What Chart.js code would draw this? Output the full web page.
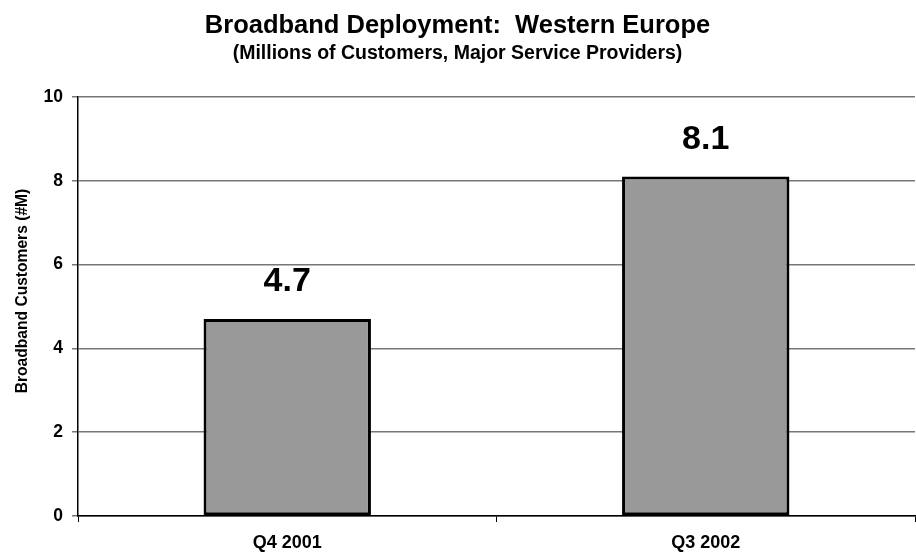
<!DOCTYPE html>
<html>
<head>
<meta charset="utf-8">
<script src="https://cdn.jsdelivr.net/npm/chart.js@4"></script>
<style>
  html, body { margin: 0; padding: 0; background: #fff; }
  #wrap { width: 916px; height: 554px; }
</style>
</head>
<body>
<div id="wrap"><canvas id="chart" width="916" height="554"></canvas></div>
<script>
const categories = ["Q4 2001", "Q3 2002"];
const customers = [4.7, 8.1];
const valueLabels = ["4.7", "8.1"];
const yTitle = "Broadband Customers (#M)";

const FONT = "Arial, 'Liberation Sans', sans-serif";

// value labels above bars, on a white patch that hides the gridline
const barLabels = {
  id: "barLabels",
  afterDatasetsDraw(chart) {
    const ctx = chart.ctx;
    const meta = chart.getDatasetMeta(0);
    ctx.save();
    ctx.font = "bold 34px " + FONT;
    ctx.textAlign = "center";
    ctx.textBaseline = "middle";
    meta.data.forEach((bar, i) => {
      const txt = valueLabels[i];
      const y = bar.y - 38;
      const w = ctx.measureText(txt).width + 10;
      ctx.fillStyle = "#fff";
      ctx.fillRect(bar.x - w / 2, y - 15, w, 30);
      ctx.fillStyle = "#000";
      ctx.fillText(txt, bar.x, y + 1);
    });
    ctx.restore();
  },
};

// y axis title sits a bit above the middle of the plot in the original
const axisTitle = {
  id: "axisTitle",
  afterDraw(chart) {
    const ctx = chart.ctx;
    ctx.save();
    ctx.translate(23, 291);
    ctx.rotate(-Math.PI / 2);
    ctx.font = "bold 15.6px " + FONT;
    ctx.fillStyle = "#000";
    ctx.textAlign = "center";
    ctx.textBaseline = "middle";
    ctx.fillText(yTitle, 0, 0);
    ctx.restore();
  },
};

new Chart(document.getElementById("chart").getContext("2d"), {
  type: "bar",
  data: {
    labels: categories,
    datasets: [
      {
        data: customers,
        backgroundColor: "#999999",
        borderColor: "#000000",
        borderWidth: 3,
        borderSkipped: false,
        barPercentage: 0.4,
        categoryPercentage: 1.0,
      },
    ],
  },
  options: {
    responsive: false,
    animation: false,
    layout: { padding: { top: 11, left: 0, right: 1, bottom: 0 } },
    plugins: {
      legend: { display: false },
      tooltip: { enabled: false },
      title: {
        display: true,
        text: "Broadband Deployment:  Western Europe",
        color: "#000",
        font: { family: FONT, size: 25.5, weight: "bold" },
        padding: { top: 0, bottom: 0 },
      },
      subtitle: {
        display: true,
        text: "(Millions of Customers, Major Service Providers)",
        color: "#000",
        font: { family: FONT, size: 19.5, weight: "bold" },
        padding: { top: 0, bottom: 32 },
      },
    },
    scales: {
      x: {
        grid: {
          offset: true,
          drawOnChartArea: false,
          drawTicks: true,
          tickLength: 6,
          color: "#000",
        },
        border: { color: "#000", width: 1.5 },
        ticks: {
          color: "#000",
          font: { family: FONT, size: 18, weight: "bold" },
          padding: 10,
        },
        afterFit(scale) {
          scale.height = 38;
        },
      },
      y: {
        min: 0,
        max: 10,
        ticks: {
          stepSize: 2,
          color: "#000",
          font: { family: FONT, size: 17.5, weight: "bold" },
          padding: 9,
        },
        grid: {
          color: "#777",
          lineWidth: 1.5,
          tickLength: 6,
        },
        border: { color: "#000", width: 1.5 },
        afterFit(scale) {
          scale.width = 78;
        },
      },
    },
  },
  plugins: [barLabels, axisTitle],
});
</script>
</body>
</html>
